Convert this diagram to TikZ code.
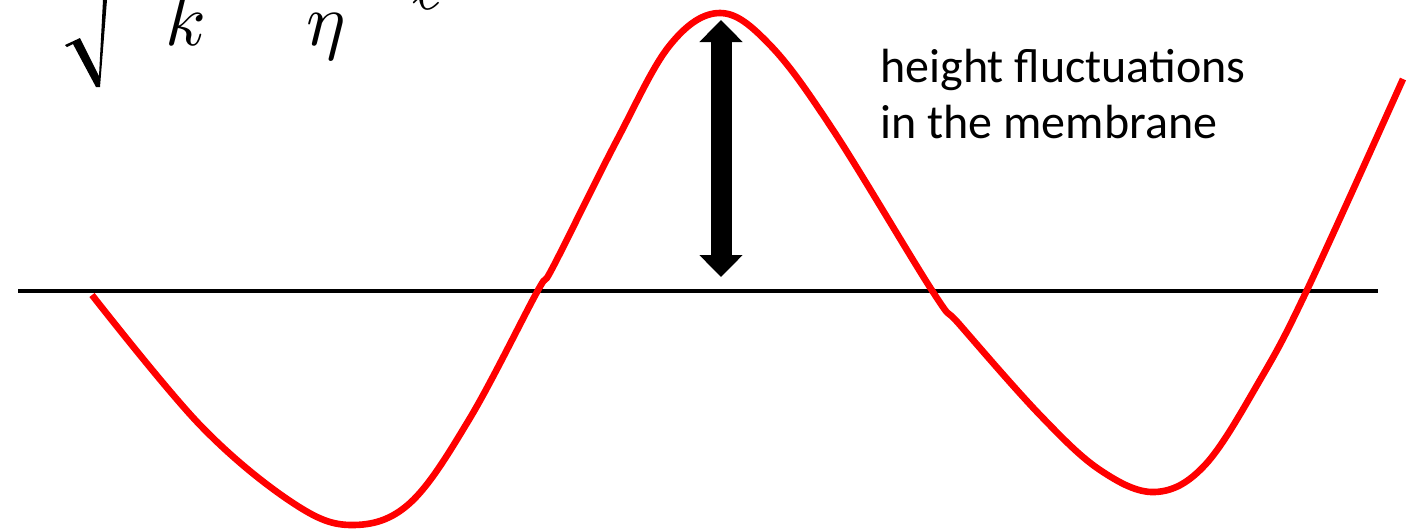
\documentclass[tikz,border=0pt]{standalone}
\usepackage{fontspec}
\usepackage{unicode-math}
\newfontfamily\labelfont{Carlito}
\usetikzlibrary{arrows.meta}
\begin{document}
\begin{tikzpicture}[x=0.5pt,y=-0.5pt,
  membrane/.style={draw=red, line width=3.3pt, line join=round},
  baseline/.style={draw=black, line width=2pt},
  bigarrow/.style={draw=black, line width=10.5pt, {Triangle[width=21pt,length=11pt]}-{Triangle[width=21pt,length=11pt]}},
  lbl/.style={font=\labelfont\fontsize{24}{28}\selectfont, inner sep=0pt, anchor=base west},
  mathlbl/.style={font=\fontsize{37}{40}\selectfont, inner sep=0pt, anchor=base west}
]
\useasboundingbox (0,0) rectangle (1428,531);
\clip (0,0) rectangle (1428,531);
\fill[white] (0,0) rectangle (1428,531);
% reference line
\coordinate (lineL) at (18,291);
\coordinate (lineR) at (1378,291);
\draw[baseline] (lineL) -- (lineR);
% membrane
\draw[membrane] plot[smooth, tension=0.6] coordinates {
 (92,295) (200,425) (293,503) (352,525) (410,503) (470,418) (537,292) (553,267)
 (617,140) (670,45) (720,13) (770,45) (833,130) (933,292) (960,325) (1040,415)
 (1100,470) (1155,492) (1205,465) (1260,380) (1307,290) (1403,79)};
% arrow
\coordinate (atop) at (721,20);
\coordinate (abot) at (721,277);
\draw[bigarrow] (atop) -- (abot);
% label
\node[lbl] (l1) at (880,82) {height fluctuations};
\node[lbl] (l2) at (880,138) {in the membrane};
% cropped formula
\fill[black] (65,45) -- (80,38) -- (99,76) -- (103,0) -- (107,0) -- (100,87) -- (96,87) -- (73,44) -- (67,47) -- cycle;
\node[mathlbl] (k) at (165,45) {$k$};
\node[mathlbl] (eta) at (306,45) {$\eta$};
\node[mathlbl] (ell) at (412,9) {$\ell$};
\end{tikzpicture}
\end{document}
